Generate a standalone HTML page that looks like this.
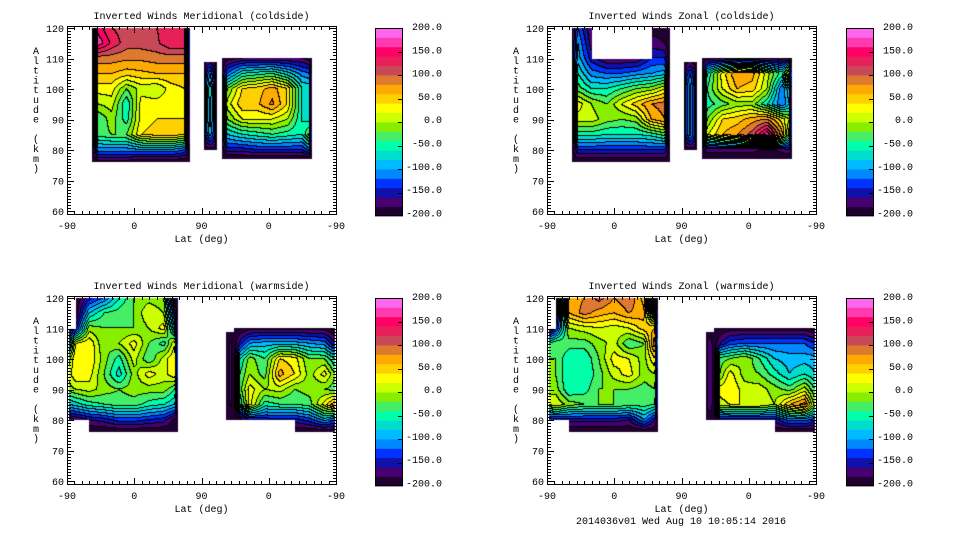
<!DOCTYPE html>
<html><head><meta charset="utf-8"><style>
html,body{margin:0;padding:0;background:#fff;}
#wrap{position:relative;width:960px;height:540px;overflow:hidden;background:#fff;}
canvas{position:absolute;left:0;top:0;}
svg{position:absolute;left:0;top:0;}
text{font-family:"Liberation Mono",monospace;font-size:10px;fill:#000;}
</style></head><body>
<div id="wrap">
<canvas id="cv" width="960" height="540"></canvas>
<svg id="sv" width="960" height="540"></svg>
</div>
<script>
// ---- colour scale (bottom -> top, 20 bands of 20 m/s from -200 to 200)
const bandColors = ["#200030","#480070","#1010aa","#0033ff","#0088ff","#00bbff","#00ddcc","#00ffaa","#44ee66","#88ee00","#ccff00","#ffff00","#ffd000","#ffaa00","#dd7a30","#c84858","#e8205a","#ff0066","#ff3ab0","#ff66ee"];
const cbarLabels = ["200.0","150.0","100.0","50.0","0.0","-50.0","-100.0","-150.0","-200.0"];
const cbarValues = [200,150,100,50,0,-50,-100,-150,-200];
const yTicks = [60,70,80,90,100,110,120];
const xTickLabels = ["-90","0","90","0","-90"];
const xTickU = [0,90,180,270,360];

// ---- shared grids
const altsA = [120,115,110,105,100,95,90,85,80,76];
const altsStrip = [109,105,100,95,90,85,80];
const altsC12 = [110,105,100,95,90,85,80,77];
const altsC34 = [110,105,100,95,90,85,80,76];
const latsA12 = [-57,-48,-30,-10,10,30,50,68,75];
const latsA34 = [-87,-78,-60,-40,-20,0,20,40,55,59];
const latsStrip12 = [87,83,78,73,69];
const latsStrip34 = [57,54,50,47,44];
const latsC12 = [63,55,35,15,-5,-25,-45,-55,-58];
const latsC34 = [46,38,25,5,-15,-35,-55,-75,-89];

// ---- Panel 1: Meridional coldside
const merColdA = [
[-200,150,120,110,110,120,130,120,-200],
[-200,175,135,110,110,115,140,140,-200],
[-200,90,90,85,85,90,90,90,-200],
[-200,60,60,50,55,60,60,60,-200],
[-200,30,30,-20,10,0,30,40,-200],
[-200,0,10,-60,30,30,35,40,-200],
[-200,-40,-10,-50,30,40,40,40,-200],
[-200,-30,-20,-20,40,50,55,40,-200],
[-200,-110,-110,-110,-100,-100,-100,-120,-200],
[-200,-190,-190,-190,-200,-200,-200,-200,-200]];
const merColdStrip = [
[-200,-180,-170,-180,-200],
[-200,-140,-100,-140,-200],
[-200,-120,-60,-120,-200],
[-200,-120,-70,-120,-200],
[-200,-120,-70,-120,-200],
[-200,-130,-90,-130,-200],
[-200,-190,-190,-190,-200]];
const merColdC = [
[-200,-190,-180,-180,-180,-180,-180,-190,-200],
[-200,-120,-60,-50,-40,-70,-110,-120,-200],
[-200,-20,40,50,70,40,-60,-60,-200],
[-200,10,55,55,85,40,-60,-80,-200],
[-200,-20,20,20,20,0,-60,-70,-200],
[-200,-80,-60,-50,-40,-50,-60,-10,-200],
[-200,-150,-150,-140,-140,-140,-140,-110,-200],
[-200,-200,-200,-200,-200,-200,-200,-200,-200]];

// ---- Panel 2: Zonal coldside
const zonColdA = [
[-200,-120,-180,null,null,null,-190,-190,-200],
[-200,-100,-170,null,null,null,-170,-180,-200],
[-200,-90,-150,-180,-180,-180,-140,-140,-200],
[-200,-60,-110,-120,-120,-110,-100,-90,-200],
[-200,-30,-60,-60,-40,-20,-10,20,-200],
[-200,30,0,-20,20,50,80,90,-200],
[-200,10,10,-10,-20,-10,60,80,-200],
[-200,-50,-50,-60,-60,-60,-50,-30,-200],
[-200,-140,-140,-140,-140,-140,-140,-140,-200],
[-200,-200,-200,-200,-200,-200,-200,-200,-200]];
const zonColdStrip = [
[-200,-190,-180,-190,-200],
[-200,-150,-120,-150,-200],
[-200,-130,-90,-130,-200],
[-200,-130,-90,-130,-200],
[-200,-130,-90,-130,-200],
[-200,-130,-90,-130,-200],
[-200,-190,-190,-190,-200]];
const zonColdC = [
[-200,-190,-190,-190,-190,-190,-190,-190,-200],
[-200,-60,30,80,70,10,-50,60,-200],
[-200,-40,20,60,50,0,-120,-60,-200],
[-200,-50,-30,-10,-10,-60,-120,-80,-200],
[-200,-20,40,50,70,80,30,0,-200],
[-200,20,60,80,110,180,70,-40,-200],
[-200,-170,-170,-170,-170,-190,-170,-160,-200],
[-200,-200,-200,-200,-200,-200,-200,-200,-200]];

// ---- Panel 3: Meridional warmside
const merWarmA = [
[null,-200,-150,-120,-60,-20,-10,-20,-200,-200],
[null,-200,-80,-40,-30,-20,20,0,-150,-200],
[-200,-150,-10,-20,-20,-20,0,30,-100,-200],
[-100,20,40,-20,0,30,-20,-50,20,-200],
[-10,40,40,-10,-50,10,-40,10,40,-200],
[10,40,30,-20,-70,-10,30,10,40,-200],
[-10,0,10,-10,-20,-10,-10,-10,-40,-200],
[-80,-70,-50,-40,-30,-30,-50,-60,-80,-200],
[-190,-180,-160,-150,-130,-130,-140,-150,-190,-200],
[null,null,-200,-200,-200,-200,-200,-200,-200,-200]];
const merWarmStrip = [
[-200,-200,-200,-200,-200],
[-200,-190,-175,-200,-200],
[-200,-190,-175,-200,-200],
[-200,-190,-175,-200,-200],
[-200,-190,-175,-200,-200],
[-200,-190,-175,-200,-200],
[-200,-200,-200,-200,-200]];
const merWarmC = [
[-200,-200,-190,-190,-190,-190,-190,-190,-200],
[-200,-150,-100,-90,-90,-90,-100,-110,-160],
[-200,-60,-10,-40,40,30,-20,-20,-60],
[-200,-40,0,-30,70,40,-10,30,-20],
[-200,-30,30,0,10,-20,-10,-20,-30],
[-200,-60,30,-50,-40,-40,-30,30,80],
[-200,-190,-160,-150,-150,-150,-130,-90,-120],
[null,null,null,null,null,-200,-200,-200,-200]];

// ---- Panel 4: Zonal warmside
const zonWarmA = [
[null,-200,60,80,110,80,100,50,-200,-200],
[null,-200,60,90,70,60,80,70,-100,-200],
[-200,-150,0,10,20,10,20,50,60,-200],
[-40,-20,-30,-30,-10,10,-40,-20,100,-200],
[-20,-20,-60,-60,-20,30,20,-10,40,-200],
[-10,-20,-60,-60,-30,10,30,-10,0,-200],
[0,-10,-60,-50,-20,-20,-20,-30,-20,-200],
[0,20,-10,-20,-20,-20,-30,-30,-40,-200],
[-150,-150,-150,-150,-150,-150,-160,-100,-160,-200],
[null,null,-200,-200,-200,-200,-200,-200,-200,-200]];
const zonWarmStrip = [
[-200,-200,-200,-200,-200],
[-200,-170,-160,-200,-200],
[-200,-170,-160,-200,-200],
[-200,-170,-160,-200,-200],
[-200,-170,-160,-200,-200],
[-200,-170,-160,-200,-200],
[-200,-200,-200,-200,-200]];
const zonWarmC = [
[-200,-200,-190,-190,-190,-190,-190,-190,-200],
[-200,-160,-130,-120,-120,-120,-120,-120,-140],
[-200,-30,-20,0,-40,-80,-90,-90,-90],
[-200,-20,30,-10,-20,-50,-80,-60,-80],
[-200,30,40,10,10,-10,-30,10,-40],
[-200,10,20,20,20,0,60,90,-10],
[-200,-150,-150,-150,-150,-150,-110,-110,-130],
[null,null,null,null,null,-200,-200,-200,-200]];

const panels = [
 {ox:0,oy:0,cbx:375,title:"Inverted Winds Meridional (coldside)",name:"meridional-coldside",
  regions:[{side:"L",lats:latsA12,alts:altsA,vals:merColdA},{side:"R",lats:latsStrip12,alts:altsStrip,vals:merColdStrip},{side:"R",lats:latsC12,alts:altsC12,vals:merColdC}]},
 {ox:480,oy:0,cbx:846,title:"Inverted Winds Zonal (coldside)",name:"zonal-coldside",
  regions:[{side:"L",lats:latsA12,alts:altsA,vals:zonColdA},{side:"R",lats:latsStrip12,alts:altsStrip,vals:zonColdStrip},{side:"R",lats:latsC12,alts:altsC12,vals:zonColdC}]},
 {ox:0,oy:270,cbx:375,title:"Inverted Winds Meridional (warmside)",name:"meridional-warmside",
  regions:[{side:"L",lats:latsA34,alts:altsA,vals:merWarmA},{side:"R",lats:latsStrip34,alts:altsStrip,vals:merWarmStrip},{side:"R",lats:latsC34,alts:altsC34,vals:merWarmC}]},
 {ox:480,oy:270,cbx:846,title:"Inverted Winds Zonal (warmside)",name:"zonal-warmside",
  regions:[{side:"L",lats:latsA34,alts:altsA,vals:zonWarmA},{side:"R",lats:latsStrip34,alts:altsStrip,vals:zonWarmStrip},{side:"R",lats:latsC34,alts:altsC34,vals:zonWarmC}]}
];

// axis functions (relative to panel origin)
const X0=67, XW=269, YBASE=211, YPX=3.05;
function uOf(lat,side){return side==="L"?lat+90:270-lat;}
function xOfU(u){return X0+u*XW/360;}
function uOfX(x){return (x-X0)*360/XW;}
function yOfAlt(a){return YBASE-(a-60)*YPX;}
function altOfY(y){return 60+(YBASE-y)/YPX;}
function bandOf(v){let b=Math.floor((v+200)/20);return b<0?0:(b>19?19:b);}
function hex(c){return [parseInt(c.substr(1,2),16),parseInt(c.substr(3,2),16),parseInt(c.substr(5,2),16)];}
const rgb=bandColors.map(hex);

const ctx=document.getElementById("cv").getContext("2d");
const img=ctx.createImageData(960,540);
for(let i=0;i<img.data.length;i++) img.data[i]=255;

panels.forEach(p=>{
  const W=272,H=192, band=new Int8Array(W*H).fill(-1);
  const bx=66,by=25;
  p.regions.forEach(r=>{
    const us=r.lats.map(l=>uOf(l,r.side));
    const umin=Math.min(...us), umax=Math.max(...us);
    const amax=r.alts[0], amin=r.alts[r.alts.length-1];
    const x1=Math.floor(xOfU(umin)), x2=Math.ceil(xOfU(umax));
    const y1=Math.floor(yOfAlt(amax)), y2=Math.ceil(yOfAlt(amin));
    for(let y=y1;y<=y2;y++)for(let x=x1;x<=x2;x++){
      const u=uOfX(x+0.5), a=altOfY(y+0.5);
      if(u<umin||u>umax||a<amin||a>amax) continue;
      let i=0; while(i<us.length-2 && u>us[i+1]) i++;
      let j=0; while(j<r.alts.length-2 && a<r.alts[j+1]) j++;
      const v00=r.vals[j][i],v01=r.vals[j][i+1],v10=r.vals[j+1][i],v11=r.vals[j+1][i+1];
      if(v00===null||v01===null||v10===null||v11===null) continue;
      const tx=(u-us[i])/(us[i+1]-us[i]), ty=(r.alts[j]-a)/(r.alts[j]-r.alts[j+1]);
      const v=(v00*(1-tx)+v01*tx)*(1-ty)+(v10*(1-tx)+v11*tx)*ty;
      const lx=x-bx, ly=y-by;
      if(lx>=0&&lx<W&&ly>=0&&ly<H) band[ly*W+lx]=bandOf(v);
    }
  });
  for(let ly=0;ly<H;ly++)for(let lx=0;lx<W;lx++){
    const b=band[ly*W+lx]; if(b<0) continue;
    let c=rgb[b];
    const br=lx+1<W?band[ly*W+lx+1]:-1, bd=ly+1<H?band[(ly+1)*W+lx]:-1;
    if((br>=0&&br!==b)||(bd>=0&&bd!==b)) c=[0,0,0];
    const gx=p.ox+bx+lx, gy=p.oy+by+ly, k=(gy*960+gx)*4;
    img.data[k]=c[0];img.data[k+1]=c[1];img.data[k+2]=c[2];img.data[k+3]=255;
  }
});
ctx.putImageData(img,0,0);

// ---- axes / labels
const NS="http://www.w3.org/2000/svg";
const sv=document.getElementById("sv");
function mk(tag,attrs,parent,txt){const e=document.createElementNS(NS,tag);for(const k in attrs)e.setAttribute(k,attrs[k]);if(txt!==undefined)e.textContent=txt;(parent||sv).appendChild(e);return e;}

panels.forEach(p=>{
  const g=mk("g",{transform:"translate("+p.ox+","+p.oy+")"});
  
  
  const t=mk("text",{x:201.5,y:19,"text-anchor":"middle"},g,p.title);
  
  
  const fr=mk("rect",{x:67.5,y:26.5,width:269,height:188,fill:"none",stroke:"#000","stroke-width":1},g);
  
  
  let d="";
  for(let a=60;a<=121;a+=1){const y=Math.round(yOfAlt(a))+0.5;if(y<27||y>214)continue;const L=(a%10===0)?6:3;d+="M68 "+y+"h"+L+"M336 "+y+"h-"+L;}
  for(let u=0;u<=360;u+=10){const x=Math.round(xOfU(u))+0.5;const L=(u%90===0)?6:3;d+="M"+x+" 214v-"+L+"M"+x+" 27v"+L;}
  const tk=mk("path",{d:d,stroke:"#000","stroke-width":1,fill:"none"},g);
  
  
  yTicks.forEach(a=>{
    const e=mk("text",{x:64,y:yOfAlt(a)+4,"text-anchor":"end"},g,String(a));
    
    
  });
  xTickU.forEach((u,i)=>{
    const e=mk("text",{x:xOfU(u),y:229,"text-anchor":"middle"},g,xTickLabels[i]);
    
    
  });
  const xl=mk("text",{x:201.5,y:242,"text-anchor":"middle"},g,"Lat (deg)");
  
  
  const yl=mk("text",{x:36,"text-anchor":"middle"},g);
  
  
  "Altitude (km)".split("").forEach((ch,i)=>{mk("tspan",{x:36,y:54+i*9.8},yl,ch===" "?"\u00a0":ch);});
  // colour bar
  const cb=mk("g",{},g);
  
  
  const cx=p.cbx-p.ox, top=28, h=188;
  bandColors.forEach((c,i)=>{
    const y0=top+h-(i+1)*h/20;
    const r=mk("rect",{x:cx,y:y0,width:28,height:h/20+0.4,fill:c},cb);
    
    
  });
  mk("rect",{x:cx+0.5,y:top+0.5,width:27,height:h-1,fill:"none",stroke:"#000","stroke-width":1},cb);
  cbarValues.forEach((v,i)=>{
    const y=top+(200-v)/400*h;
    if(v<200&&v>-200) mk("path",{d:"M"+(cx+28)+" "+(Math.round(y)+0.5)+"h-5",stroke:"#000"},cb);
    const e=mk("text",{x:cx+67,y:26+(200-v)/50*23.3+4,"text-anchor":"end"},cb,cbarLabels[i]);
    
    
  });
});
const ft=mk("text",{x:681,y:524,"text-anchor":"middle"},sv,"2014036v01 Wed Aug 10 10:05:14 2016");


</script>
</body></html>
